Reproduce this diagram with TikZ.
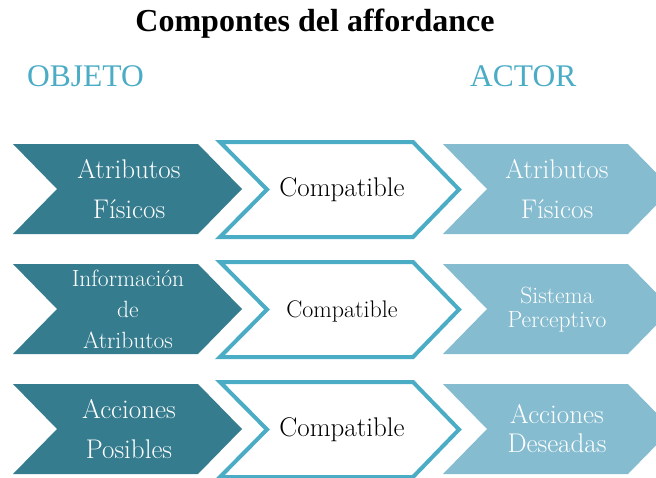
\documentclass[tikz,border=0pt]{standalone}
\usepackage{fontspec}
\newfontfamily\termes{Liberation Serif}
\definecolor{darkteal}{RGB}{53,124,143}
\definecolor{lightteal}{RGB}{133,188,208}
\definecolor{outlineblue}{RGB}{75,172,198}
\tikzset{
  chevshape/.pic={\path[pic actions] (0,-45) -- (185,-45) -- (229,0) -- (185,45) -- (0,45) -- (44,0) -- cycle;},
  chevoutline/.pic={\path[pic actions] (0,-47.5) -- (193,-47.5) -- (239,0) -- (193,47.5) -- (0,47.5) -- (47,0) -- cycle;},
  darkchev/.style={fill=darkteal},
  lightchev/.style={fill=lightteal},
  midchev/.style={draw=outlineblue,line width=4pt,line join=miter,fill=white},
  whitetxt/.style={text=white,align=center,inner sep=0pt},
  blacktxt/.style={text=black,align=center,inner sep=0pt},
  big/.style={font=\fontsize{27}{40}\selectfont},
  small/.style={font=\fontsize{23.5}{31}\selectfont},
  header/.style={text=outlineblue,inner sep=0pt,anchor=base,font=\termes\fontsize{31.5}{31.5}\selectfont}
}
\begin{document}
\begin{tikzpicture}[x=1pt,y=-1pt]
\useasboundingbox (0,0) rectangle (656,477);
\clip (0,0) rectangle (656,477);
% title
\node[inner sep=0pt,anchor=base,font=\termes\bfseries\fontsize{32}{32}\selectfont] (title) at (315,31) {Compontes del affordance};
\node[header,anchor=base west] (objeto) at (27,86) {OBJETO};
\node[header,anchor=base west] (actor) at (470,86) {ACTOR};
% row shapes
\foreach \yy in {189,309,429}{
  \pic[darkchev] at (13,\yy) {chevshape};
  \pic[lightchev] at (443,\yy) {chevshape};
  \pic[midchev] at (220,\yy+0.5) {chevoutline};
}
% row 1
\node[whitetxt,big] (l1) at (129,189) {Atributos\\Físicos};
\node[blacktxt,font=\fontsize{27}{27}\selectfont] (m1) at (342,190) {Compatible};
\node[whitetxt,big] (r1) at (557,189) {Atributos\\Físicos};
% row 2
\node[whitetxt,small] (l2) at (128,309) {Información\\de\\Atributos};
\node[blacktxt,font=\fontsize{24}{24}\selectfont] (m2) at (342,311) {Compatible};
\node[whitetxt,font=\fontsize{23.5}{24}\selectfont] (r2) at (557,310) {Sistema\\Perceptivo};
% row 3
\node[whitetxt,big] (l3) at (129,429) {Acciones\\Posibles};
\node[blacktxt,font=\fontsize{27}{27}\selectfont] (m3) at (342,430) {Compatible};
\node[whitetxt,font=\fontsize{27}{29}\selectfont] (r3) at (557,429) {Acciones\\Deseadas};
\end{tikzpicture}
\end{document}
